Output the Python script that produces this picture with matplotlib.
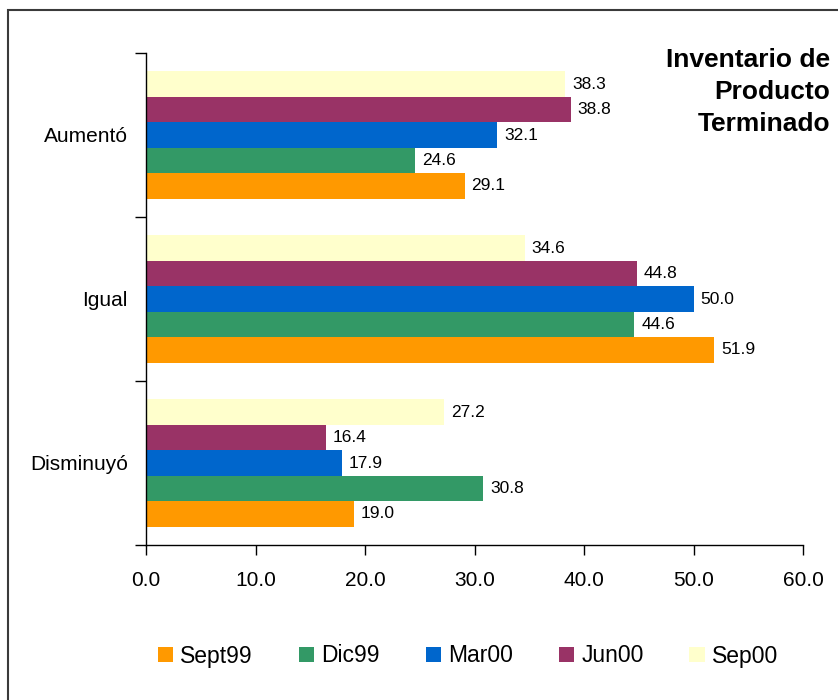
import matplotlib
matplotlib.use("Agg")
import matplotlib.pyplot as plt
import numpy as np
from matplotlib.patches import Rectangle

plt.rcParams['font.family'] = ['Liberation Sans', 'DejaVu Sans']

categories = ["Aumentó", "Igual", "Disminuyó"]
series_names = ["Sept99", "Dic99", "Mar00", "Jun00", "Sep00"]
sept99 = [29.1, 51.9, 19.0]
dic99 = [24.6, 44.6, 30.8]
mar00 = [32.1, 50.0, 17.9]
jun00 = [38.8, 44.8, 16.4]
sep00 = [38.3, 34.6, 27.2]
series_values = [sept99, dic99, mar00, jun00, sep00]
colors = ["#FF9900", "#339966", "#0066CC", "#993366", "#FFFFCC"]
xticks = [0, 10, 20, 30, 40, 50, 60]
title = "Inventario de\nProducto\nTerminado"

W, H = 838, 700
fig = plt.figure(figsize=(W / 100, H / 100), dpi=100)

# outer frame (left and top edges visible)
fig.patches.append(Rectangle((8 / W, -0.05), 1.2, 1 - 10 / H + 0.05,
                             transform=fig.transFigure, fill=False,
                             edgecolor="#3a3a3a", linewidth=1.5, zorder=0))

ax = fig.add_axes([146 / W, 1 - 545 / H, (803 - 146) / W, (545 - 53) / H])

n = len(series_names)
bh = 0.155
y = np.arange(len(categories))
for i, (name, vals, c) in enumerate(zip(series_names, series_values, colors)):
    pos = y + (n - 1) / 2 * bh - i * bh
    ax.barh(pos, vals, height=bh, color=c, label=name, zorder=2)
    for p, v in zip(pos, vals):
        ax.annotate(f"{v:.1f}", xy=(v, p), xytext=(5, 0), textcoords="offset points",
                    ha="left", va="center", fontsize=12.5,
                    bbox=dict(boxstyle="square,pad=0.1", fc="white", ec="none"),
                    zorder=3)

ax.set_xlim(0, 60)
ax.set_ylim(2.5, -0.5)
ax.set_xticks(xticks)
ax.set_xticklabels([f"{t:.1f}" for t in xticks], fontsize=15)
ax.set_yticks([-0.5, 0.5, 1.5, 2.5])
ax.set_yticklabels([])
ax.set_yticks(y, minor=True)
ax.set_yticklabels(categories, minor=True, fontsize=15)
ax.tick_params(axis="y", which="minor", length=0, pad=13)
ax.tick_params(axis="y", which="major", length=8, width=1, direction="out")
ax.tick_params(axis="x", length=7, width=1, direction="out", pad=12)
for s in ["top", "right"]:
    ax.spines[s].set_visible(False)
for s in ["left", "bottom"]:
    ax.spines[s].set_linewidth(1)
    ax.spines[s].set_color("black")

fig.text(830 / W, 1 - 48 / H, title, ha="right", va="top", fontsize=19,
         fontweight="bold", linespacing=1.42)

handles, labels = ax.get_legend_handles_labels()
fig.legend(handles, labels, loc="center", bbox_to_anchor=(468 / W, 1 - 656 / H),
           ncol=5, frameon=False, fontsize=16.5, handlelength=0.66,
           handleheight=0.66, handletextpad=0.32, columnspacing=2.0)

fig.savefig("out.png", dpi=100)
